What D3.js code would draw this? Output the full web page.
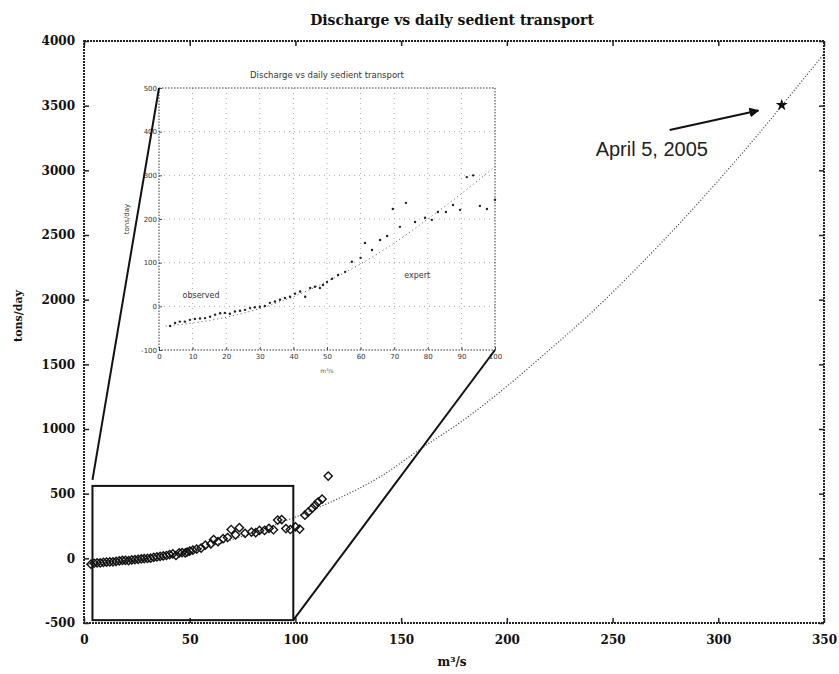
<!DOCTYPE html>
<html>
<head>
<meta charset="utf-8">
<script src="https://cdn.jsdelivr.net/npm/d3@7"></script>
<style>
  body { margin: 0; background: #fff; }
  .tick text { font-family: "DejaVu Serif", serif; font-weight: bold; font-size: 12px; fill: #111; }
  .inset .tick text { font-family: "DejaVu Sans", sans-serif; font-weight: normal; font-size: 7px; fill: #333; }
</style>
</head>
<body>
<div class="chart"></div>
<script>
var svgWidth = 839;
var svgHeight = 674;

// observed discharge (m3/s) and sediment transport (tons/day)
var discharge = [3.3, 4.8, 6.2, 7.7, 9.2, 10.7, 12.2, 13.7, 15.2, 16.7, 18.2, 19.6, 21.1, 22.6, 24.1,
  25.6, 27.1, 28.5, 30, 31.5, 33, 34.5, 36, 37.5, 39, 40.5, 42, 43.5, 45, 46.4, 47.9, 48.8, 50, 51.5,
  53.3, 55.4, 57.4, 60, 61.3, 63.4, 65.8, 67.9, 69.6, 71.7, 73.5, 76.2, 79.2, 81.2, 83, 85.4, 87.5,
  89.6, 91.6, 93.5, 95.5, 97.6, 100, 102, 104.5, 106, 108, 109.3, 110.7, 112.6, 115.5];
var sediment = [-45, -38, -35, -35, -31, -29, -28, -27, -24, -19, -16, -15, -17, -12, -10,
  -8, -4, -2, -1, 1, 8, 11, 15, 19, 22, 29, 34, 22, 42, 45, 42, 49, 56, 63,
  72, 79, 102, 111, 145, 129, 152, 161, 223, 182, 237, 193, 203, 198, 216, 216, 232,
  221, 296, 300, 230, 223, 244, 226, 334, 357, 388, 411, 435, 458, 636];

// fitted curve
var fitQ = [2, 10, 20, 30, 40, 50, 60, 70, 80, 90, 100, 120, 140, 160, 180, 200, 220, 240, 260, 280, 300, 320, 340, 350];
var fitS = [-45, -38, -25, -5, 22, 57, 97, 145, 200, 258, 320, 460, 630, 855, 1075, 1330, 1610, 1900, 2220, 2560, 2920, 3300, 3700, 3900];

// April 5, 2005 event
var eventQ = [330];
var eventS = [3505];

// zoom window shown in the inset (data units of main plot)
var zoomQ = [4, 99];
var zoomS = [-478, 560];

var xTicks = [0, 50, 100, 150, 200, 250, 300, 350];
var yTicks = [-500, 0, 500, 1000, 1500, 2000, 2500, 3000, 3500, 4000];
var insetXTicks = [0, 10, 20, 30, 40, 50, 60, 70, 80, 90, 100];
var insetYTicks = [-100, 0, 100, 200, 300, 400, 500];

var points = discharge.map(function(q, i) { return { q: q, s: sediment[i] }; });
var fit = fitQ.map(function(q, i) { return { q: q, s: fitS[i] }; });

var margin = { top: 41, right: 15, bottom: 51, left: 84 };
var width = svgWidth - margin.left - margin.right;
var height = svgHeight - margin.top - margin.bottom;

var plain = d => String(d);

var svg = d3.select(".chart")
  .append("svg")
  .attr("width", svgWidth)
  .attr("height", svgHeight);

var chartGroup = svg.append("g")
  .attr("transform", `translate(${margin.left}, ${margin.top})`);

var xScale = d3.scaleLinear().domain([0, 350]).range([0, width]);
var yScale = d3.scaleLinear().domain([-500, 4000]).range([height, 0]);

// axes with inward ticks
chartGroup.append("g")
  .attr("transform", `translate(0, ${height})`)
  .call(d3.axisBottom(xScale).tickValues(xTicks).tickSize(-5).tickPadding(12).tickFormat(plain))
  .call(g => g.select(".domain").remove());
chartGroup.append("g")
  .call(d3.axisTop(xScale).tickValues(xTicks).tickSize(-5).tickFormat(""))
  .call(g => g.select(".domain").remove());
chartGroup.append("g")
  .call(d3.axisLeft(yScale).tickValues(yTicks).tickSize(-5).tickPadding(9).tickFormat(plain))
  .call(g => g.select(".domain").remove());
chartGroup.append("g")
  .attr("transform", `translate(${width}, 0)`)
  .call(d3.axisRight(yScale).tickValues(yTicks).tickSize(-5).tickFormat(""))
  .call(g => g.select(".domain").remove());

chartGroup.selectAll(".tick line").attr("stroke", "#222").attr("stroke-width", 1.5);

// frame
chartGroup.append("rect")
  .attr("width", width)
  .attr("height", height)
  .attr("fill", "none")
  .attr("stroke", "#222")
  .attr("stroke-width", 2)
  .attr("stroke-dasharray", "2,1");

// fitted curve
var line = d3.line()
  .x(d => xScale(d.q))
  .y(d => yScale(d.s))
  .curve(d3.curveMonotoneX);

chartGroup.append("path")
  .datum(fit)
  .attr("d", line)
  .attr("fill", "none")
  .attr("stroke", "#333")
  .attr("stroke-width", 1.2)
  .attr("stroke-dasharray", "1,2");

// observed points as diamonds
chartGroup.selectAll(".obs")
  .data(points)
  .enter()
  .append("path")
  .attr("class", "obs")
  .attr("d", d3.symbol().type(d3.symbolSquare).size(34))
  .attr("transform", d => `translate(${xScale(d.q)}, ${yScale(d.s)}) rotate(45)`)
  .attr("fill", "none")
  .attr("stroke", "#111")
  .attr("stroke-width", 1.4);

// event marker
chartGroup.selectAll(".event")
  .data(eventQ)
  .enter()
  .append("path")
  .attr("d", d3.symbol().type(d3.symbolStar).size(45))
  .attr("transform", (d, i) => `translate(${xScale(d)}, ${yScale(eventS[i])})`)
  .attr("fill", "#111");

// arrow + annotation
svg.append("defs").append("marker")
  .attr("id", "head")
  .attr("viewBox", "0 0 10 10")
  .attr("refX", 9)
  .attr("refY", 5)
  .attr("markerWidth", 5)
  .attr("markerHeight", 5)
  .attr("orient", "auto")
  .append("path")
  .attr("d", "M0,0L10,5L0,10z")
  .attr("fill", "#111");

chartGroup.append("line")
  .attr("x1", xScale(277))
  .attr("y1", yScale(3312))
  .attr("x2", xScale(319))
  .attr("y2", yScale(3462))
  .attr("stroke", "#111")
  .attr("stroke-width", 2)
  .attr("marker-end", "url(#head)");

chartGroup.append("text")
  .attr("x", xScale(242))
  .attr("y", yScale(3110))
  .attr("font-family", "Liberation Sans, Arial, sans-serif")
  .attr("font-size", 20)
  .attr("fill", "#222")
  .text("April 5, 2005");

// zoom box
chartGroup.append("rect")
  .attr("x", xScale(zoomQ[0]))
  .attr("y", yScale(zoomS[1]))
  .attr("width", xScale(zoomQ[1]) - xScale(zoomQ[0]))
  .attr("height", yScale(zoomS[0]) - yScale(zoomS[1]))
  .attr("fill", "none")
  .attr("stroke", "#111")
  .attr("stroke-width", 2);

// inset
var inset = { left: 159, top: 88, right: 495, bottom: 350 };
var ix = d3.scaleLinear().domain([0, 100]).range([inset.left, inset.right]);
var iy = d3.scaleLinear().domain([-100, 500]).range([inset.bottom, inset.top]);

var insetGroup = svg.append("g").attr("class", "inset");

insetGroup.append("rect")
  .attr("x", inset.left)
  .attr("y", inset.top)
  .attr("width", inset.right - inset.left)
  .attr("height", inset.bottom - inset.top)
  .attr("fill", "#fff");

// grid
insetGroup.selectAll(".vgrid")
  .data(insetXTicks.slice(1, -1))
  .enter()
  .append("line")
  .attr("x1", d => ix(d)).attr("x2", d => ix(d))
  .attr("y1", inset.top).attr("y2", inset.bottom)
  .attr("stroke", "#aaa")
  .attr("stroke-dasharray", "1,4");
insetGroup.selectAll(".hgrid")
  .data(insetYTicks.slice(1, -1))
  .enter()
  .append("line")
  .attr("y1", d => iy(d)).attr("y2", d => iy(d))
  .attr("x1", inset.left).attr("x2", inset.right)
  .attr("stroke", "#aaa")
  .attr("stroke-dasharray", "1,4");

insetGroup.append("g")
  .attr("transform", `translate(0, ${inset.bottom})`)
  .call(d3.axisBottom(ix).tickValues(insetXTicks).tickSize(-3).tickPadding(4).tickFormat(plain))
  .call(g => g.select(".domain").remove());
insetGroup.append("g")
  .attr("transform", `translate(${inset.left}, 0)`)
  .call(d3.axisLeft(iy).tickValues(insetYTicks).tickSize(-3).tickPadding(2).tickFormat(plain))
  .call(g => g.select(".domain").remove());
insetGroup.selectAll(".tick line").attr("stroke", "#555");

insetGroup.append("rect")
  .attr("x", inset.left)
  .attr("y", inset.top)
  .attr("width", inset.right - inset.left)
  .attr("height", inset.bottom - inset.top)
  .attr("fill", "none")
  .attr("stroke", "#333")
  .attr("stroke-width", 1)
  .attr("stroke-dasharray", "1.5,1.5");

var insetLine = d3.line()
  .x(d => ix(d.q))
  .y(d => iy(d.s))
  .curve(d3.curveMonotoneX);

insetGroup.append("path")
  .datum(fit.filter(d => d.q <= 100))
  .attr("d", insetLine)
  .attr("fill", "none")
  .attr("stroke", "#555")
  .attr("stroke-width", 1)
  .attr("stroke-dasharray", "1,3");

insetGroup.selectAll(".idot")
  .data(points.filter(d => d.q <= 100))
  .enter()
  .append("circle")
  .attr("cx", d => ix(d.q))
  .attr("cy", d => iy(d.s))
  .attr("r", 1.2)
  .attr("fill", "#222");

insetGroup.append("text")
  .attr("x", (inset.left + inset.right) / 2)
  .attr("y", 78)
  .attr("text-anchor", "middle")
  .attr("font-family", "DejaVu Sans, sans-serif")
  .attr("font-size", 8.5)
  .attr("fill", "#333")
  .text("Discharge vs daily sedient transport");

insetGroup.append("text")
  .attr("transform", `translate(129, ${(inset.top + inset.bottom) / 2}) rotate(-90)`)
  .attr("text-anchor", "middle")
  .attr("font-family", "DejaVu Sans, sans-serif")
  .attr("font-size", 7)
  .attr("fill", "#333")
  .text("tons/day");

insetGroup.append("text")
  .attr("x", ix(50))
  .attr("y", 373)
  .attr("text-anchor", "middle")
  .attr("font-family", "DejaVu Sans, sans-serif")
  .attr("font-size", 6)
  .attr("fill", "#555")
  .text("m³/s");

insetGroup.append("text")
  .attr("x", ix(7))
  .attr("y", iy(20))
  .attr("font-family", "DejaVu Sans, sans-serif")
  .attr("font-size", 8)
  .attr("fill", "#333")
  .text("observed");

insetGroup.append("text")
  .attr("x", ix(73))
  .attr("y", iy(64))
  .attr("font-family", "DejaVu Sans, sans-serif")
  .attr("font-size", 8)
  .attr("fill", "#333")
  .text("expert");

// connecting lines from zoom box to inset
svg.append("line")
  .attr("x1", margin.left + xScale(zoomQ[0]))
  .attr("y1", margin.top + yScale(zoomS[1]) - 6)
  .attr("x2", ix(0))
  .attr("y2", iy(500))
  .attr("stroke", "#111")
  .attr("stroke-width", 2);
svg.append("line")
  .attr("x1", margin.left + xScale(zoomQ[1]))
  .attr("y1", margin.top + yScale(zoomS[0]))
  .attr("x2", ix(100))
  .attr("y2", iy(-100))
  .attr("stroke", "#111")
  .attr("stroke-width", 2);

// titles
svg.append("text")
  .attr("x", 452)
  .attr("y", 25)
  .attr("text-anchor", "middle")
  .attr("font-family", "DejaVu Serif, serif")
  .attr("font-weight", "bold")
  .attr("font-size", 14)
  .attr("fill", "#111")
  .text("Discharge vs daily sedient transport");

svg.append("text")
  .attr("transform", `translate(22, 316) rotate(-90)`)
  .attr("text-anchor", "middle")
  .attr("font-family", "DejaVu Serif, serif")
  .attr("font-weight", "bold")
  .attr("font-size", 11)
  .attr("fill", "#111")
  .text("tons/day");

svg.append("text")
  .attr("x", 452)
  .attr("y", 666)
  .attr("text-anchor", "middle")
  .attr("font-family", "DejaVu Serif, serif")
  .attr("font-weight", "bold")
  .attr("font-size", 12)
  .attr("fill", "#111")
  .text("m³/s");
</script>
</body>
</html>
